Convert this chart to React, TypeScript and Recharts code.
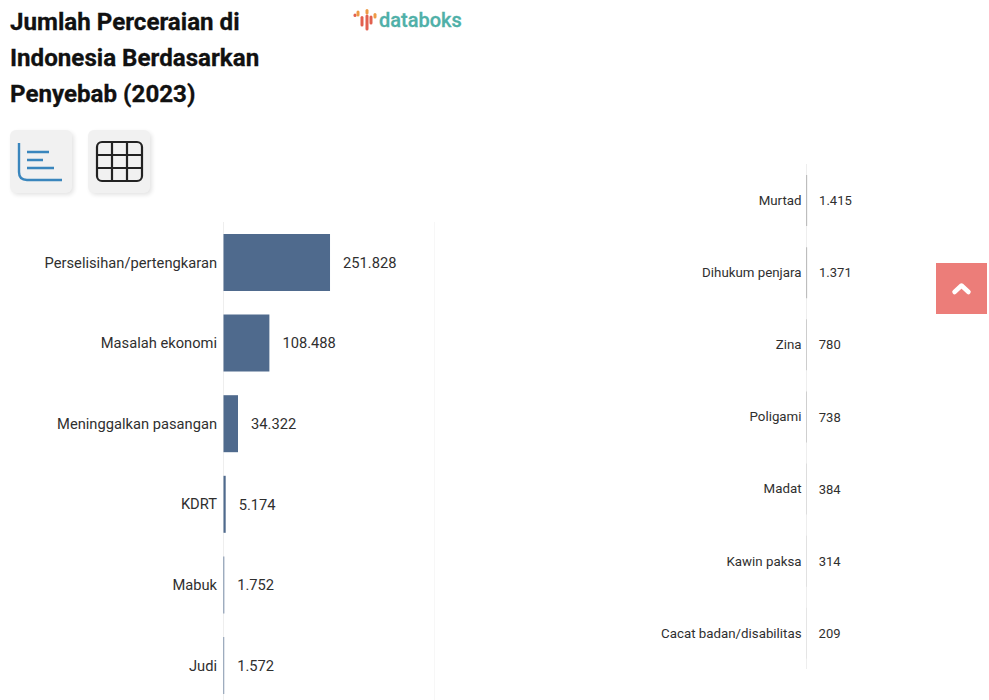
import { Bar, BarChart, CartesianGrid, LabelList, XAxis, YAxis } from 'recharts';

const titleLines = ['Jumlah Perceraian di', 'Indonesia Berdasarkan', 'Penyebab (2023)'];

const leftCauses = [
  'Perselisihan/pertengkaran',
  'Masalah ekonomi',
  'Meninggalkan pasangan',
  'KDRT',
  'Mabuk',
  'Judi',
];
const leftCounts = [251828, 108488, 34322, 5174, 1752, 1572];

const rightCauses = [
  'Murtad',
  'Dihukum penjara',
  'Zina',
  'Poligami',
  'Madat',
  'Kawin paksa',
  'Cacat badan/disabilitas',
];
const rightCounts = [1415, 1371, 780, 738, 384, 314, 209];

const axisTicks = [0, 500000];

const BAR_COLOR = '#4f6a8d';
const THIN_BAR_COLOR = '#8c8c8c';
const GRID_COLOR = '#eeeeee';
const TEXT_COLOR = '#2f2f2f';
const FONT = 'Roboto, sans-serif';

const formatCount = (value: number) => String(value).replace(/\B(?=(\d{3})+$)/g, '.');

interface PanelProps {
  causes: string[];
  counts: number[];
  left: number;
  top: number;
  width: number;
  height: number;
  axisWidth: number;
  plotTop: number;
  plotHeight: number;
  barSize: number;
  barColor: string;
  tickFontSize: number;
  tickGap: number;
  labelFontSize: number;
  labelOffset: number;
}

function CausePanel(props: PanelProps) {
  const { causes, counts, left, top, width, height, axisWidth, plotTop, plotHeight } = props;
  const rows = causes.map((cause, i) => ({ cause, count: counts[i] }));
  return (
    <div style={{ position: 'absolute', left, top }}>
      <BarChart
        layout="vertical"
        width={width}
        height={height}
        data={rows}
        margin={{ top: plotTop, right: 0, bottom: height - plotTop - plotHeight, left: 0 }}
      >
        <CartesianGrid horizontal={false} stroke={GRID_COLOR} strokeWidth={1} />
        <XAxis type="number" hide domain={[0, 500000]} ticks={axisTicks} />
        <YAxis
          type="category"
          dataKey="cause"
          width={axisWidth}
          interval={0}
          axisLine={false}
          tickLine={false}
          tickSize={0}
          tickMargin={props.tickGap}
          tick={{ fontSize: props.tickFontSize, fill: TEXT_COLOR, fontFamily: FONT }}
        />
        <Bar dataKey="count" fill={props.barColor} barSize={props.barSize} isAnimationActive={false}>
          <LabelList
            dataKey="count"
            position="right"
            offset={props.labelOffset}
            formatter={formatCount}
            style={{ fontSize: props.labelFontSize, fill: TEXT_COLOR, fontFamily: FONT }}
          />
        </Bar>
      </BarChart>
    </div>
  );
}

function ChartButton({ left, children }: { left: number; children: React.ReactNode }) {
  return (
    <div
      style={{
        position: 'absolute',
        left,
        top: 130,
        width: 62,
        height: 63,
        boxSizing: 'border-box',
        background: '#f1f1f1',
        borderRadius: 6,
        boxShadow: '2px 2px 4px rgba(0,0,0,0.11)',
      }}
    >
      {children}
    </div>
  );
}

export default function App() {
  return (
    <div
      style={{
        position: 'absolute',
        left: 0,
        top: 0,
        width: 989,
        height: 700,
        overflow: 'hidden',
        background: '#fff',
        fontFamily: FONT,
      }}
    >
      <div
        style={{
          position: 'absolute',
          left: 10,
          top: 4,
          fontSize: 24.15,
          lineHeight: '36px',
          fontWeight: 700,
          color: '#111',
          whiteSpace: 'nowrap',
          WebkitTextStroke: '0.3px #111',
        }}
      >
        {titleLines.map((line) => (
          <div key={line}>{line}</div>
        ))}
      </div>

      {/* databoks logo */}
      <svg style={{ position: 'absolute', left: 345, top: 0 }} width={40} height={40}>
        <g strokeWidth={3} strokeLinecap="round" fill="none">
          <path d="M10 15v.5" stroke="#e2604f" />
          <path d="M13 12v3" stroke="#ee9a45" />
          <path d="M17 17.5v7.5" stroke="#e2604f" />
          <path d="M22 10.5v2.5" stroke="#ee9a45" />
          <path d="M22 16v13" stroke="#e2604f" />
          <path d="M26 17v6" stroke="#e2604f" />
          <path d="M30 14.5v2.5" stroke="#ee9a45" />
        </g>
      </svg>
      <div
        style={{
          position: 'absolute',
          left: 379,
          top: 8,
          fontSize: 20,
          lineHeight: '24px',
          fontWeight: 500,
          color: '#4fb0a8',
          WebkitTextStroke: '0.3px #4fb0a8',
        }}
      >
        databoks
      </div>

      <ChartButton left={10}>
        <svg width={62} height={63} fill="none" stroke="#3a86bd" strokeWidth={2.4}>
          <path d="M9 13v29q0 8 8 8h35" />
          <path d="M17 22h22M17 30h16M17 38h27" />
        </svg>
      </ChartButton>
      <ChartButton left={88}>
        <svg width={62} height={63} fill="none" stroke="#222" strokeWidth={2.2}>
          <rect x={9} y={12} width={45} height={39} rx={5} />
          <path d="M24 12v39M39 12v39M9 25h45M9 38h45" />
        </svg>
      </ChartButton>

      <CausePanel
        causes={leftCauses}
        counts={leftCounts}
        left={0}
        top={210}
        width={435}
        height={500}
        axisWidth={223.5}
        plotTop={12}
        plotHeight={483.6}
        barSize={57}
        barColor={BAR_COLOR}
        tickFontSize={14.7}
        tickGap={6.5}
        labelFontSize={14.7}
        labelOffset={13}
      />
      <CausePanel
        causes={rightCauses}
        counts={rightCounts}
        left={440}
        top={150}
        width={576.5}
        height={530}
        axisWidth={366.5}
        plotTop={14}
        plotHeight={505}
        barSize={51}
        barColor={THIN_BAR_COLOR}
        tickFontSize={13.3}
        tickGap={5}
        labelFontSize={13}
        labelOffset={12}
      />

      {/* scroll-to-top button */}
      <div
        style={{ position: 'absolute', left: 936, top: 263, width: 51, height: 50.5, background: '#ec7d79' }}
      >
        <svg width={51} height={51} fill="none" stroke="#fff" strokeWidth={4.5} strokeLinecap="round" strokeLinejoin="round">
          <path d="M18.5 29l7-6.5 7 6.5" />
        </svg>
      </div>
    </div>
  );
}
